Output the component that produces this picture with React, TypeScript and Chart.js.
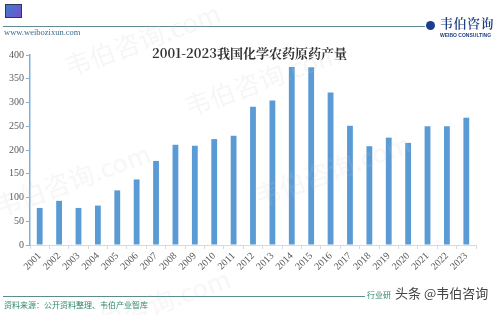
import React, { useEffect, useRef } from "react";
import { Chart, registerables } from "chart.js";

Chart.register(...registerables);

const years = ["2001","2002","2003","2004","2005","2006","2007","2008","2009","2010","2011","2012","2013","2014","2015","2016","2017","2018","2019","2020","2021","2022","2023"];
const output = [78, 93, 78, 83, 115, 138, 177, 211, 209, 223, 230, 291, 304, 375, 374, 321, 251, 208, 226, 215, 250, 250, 268];
const yTicks = [0, 50, 100, 150, 200, 250, 300, 350, 400];

const titleText = "2001-2023我国化学农药原药产量";
const siteText = "www.weibozixun.com";
const sourceText = "资料来源：公开资料整理、韦伯产业智库";
const brandText = "韦伯咨询";
const brandSub = "WEIBO CONSULTING";

const serif = "'Liberation Serif', 'DejaVu Serif', serif";

export default function App() {
  const ref = useRef<HTMLCanvasElement | null>(null);

  useEffect(() => {
    document.body.style.margin = "0";
    const ctx = ref.current!;
    const chart = new Chart(ctx, {
      type: "bar",
      data: {
        labels: years,
        datasets: [
          {
            label: "产量",
            data: output,
            backgroundColor: "#5b9bd5",
            barPercentage: 0.3,
            categoryPercentage: 1,
          },
        ],
      },
      options: {
        animation: false,
        responsive: false,
        maintainAspectRatio: false,
        layout: { padding: { left: 0, right: 23, top: 55, bottom: 0 } },
        plugins: {
          legend: { display: false },
          title: { display: false },
          tooltip: { enabled: false },
        },
        scales: {
          x: {
            grid: {
              offset: true,
              drawOnChartArea: false,
              drawTicks: true,
              tickLength: 4,
              color: "#d9d9d9",
            },
            border: { color: "#d9d9d9", width: 1 },
            ticks: {
              maxRotation: 45,
              minRotation: 45,
              autoSkip: false,
              color: "#595959",
              font: { family: serif, size: 10 },
              padding: 1,
            },
            afterFit: (scale: any) => {
              scale.height = 70;
            },
          },
          y: {
            min: 0,
            max: 400,
            afterBuildTicks: (scale: any) => {
              scale.ticks = yTicks.map((v) => ({ value: v }));
            },
            grid: {
              drawOnChartArea: false,
              drawTicks: true,
              tickLength: 4,
              color: "#7fb0d8",
            },
            border: { color: "#7fb0d8", width: 1.5 },
            ticks: {
              color: "#595959",
              font: { family: serif, size: 10 },
              padding: 2,
            },
            afterFit: (scale: any) => {
              scale.width = 30;
            },
          },
        },
      },
    });
    return () => chart.destroy();
  }, []);

  const wm = (left: number, top: number, key: string) => (
    <div
      key={key}
      style={{
        position: "absolute",
        left,
        top,
        fontFamily: "'Noto Sans CJK SC', sans-serif",
        fontSize: 26,
        color: "rgba(200,200,200,0.16)",
        transform: "rotate(-20deg)",
        whiteSpace: "nowrap",
        pointerEvents: "none",
      }}
    >
      韦伯咨询.com
    </div>
  );

  return (
    <div style={{ position: "absolute", left: 0, top: 0, width: 499, height: 315, background: "#fff", overflow: "hidden" }}>
      <canvas ref={ref} width={499} height={315} style={{ position: "absolute", left: 0, top: 0, width: 499, height: 315 }} />
      {/* header */}
      <div style={{ position: "absolute", left: 5, top: 4, width: 15, height: 12, background: "linear-gradient(135deg,#3a7fd0,#7a4fc8)", border: "1px solid #335" }} />
      <div style={{ position: "absolute", left: 3, top: 26, width: 422, height: 1, background: "#5f8a8f" }} />
      <div style={{ position: "absolute", left: 4, top: 27, fontFamily: serif, fontSize: 8.5, color: "#3d6b8a" }}>{siteText}</div>
      <div style={{ position: "absolute", left: 426, top: 21, width: 9, height: 9, borderRadius: 4.5, background: "#1a3f8f" }} />
      <div style={{ position: "absolute", left: 440, top: 13, fontFamily: "'Noto Serif CJK SC', 'Noto Sans CJK SC', serif", fontSize: 13, fontWeight: 600, color: "#1e3f84", letterSpacing: 0.5 }}>{brandText}</div>
      <div style={{ position: "absolute", left: 440, top: 32, fontFamily: "'Liberation Sans', sans-serif", fontSize: 5, fontWeight: 700, color: "#1e3f84", whiteSpace: "nowrap" }}>{brandSub}</div>
      <div style={{ position: "absolute", left: 0, width: 499, top: 43, textAlign: "center", fontFamily: "'Noto Serif CJK SC', 'Liberation Serif', serif", fontSize: 13, fontWeight: 700, color: "#333" }}>
        {titleText}
      </div>
      {/* watermarks */}
      {wm(60, 20, "w1")}
      {wm(180, 60, "w2")}
      {wm(-10, 160, "w3")}
      {wm(250, 150, "w4")}
      {wm(70, 285, "w5")}
      {/* footer */}
      <div style={{ position: "absolute", left: 3, top: 296, width: 362, height: 1, background: "#5f8a8f" }} />
      <div style={{ position: "absolute", left: 4, top: 299, fontFamily: "'Noto Sans CJK SC', serif", fontSize: 8, color: "#2e8a6a" }}>{sourceText}</div>
      <div style={{ position: "absolute", left: 367, top: 289, fontFamily: "'Noto Sans CJK SC', serif", fontSize: 8, color: "#2e8a6a" }}>行业研</div>
      <div style={{ position: "absolute", left: 395, top: 283, fontFamily: "'Noto Sans CJK SC', sans-serif", fontSize: 13, color: "#444", textShadow: "0 0 2px #fff, 0 0 2px #fff" }}>头条 @韦伯咨询</div>
    </div>
  );
}
